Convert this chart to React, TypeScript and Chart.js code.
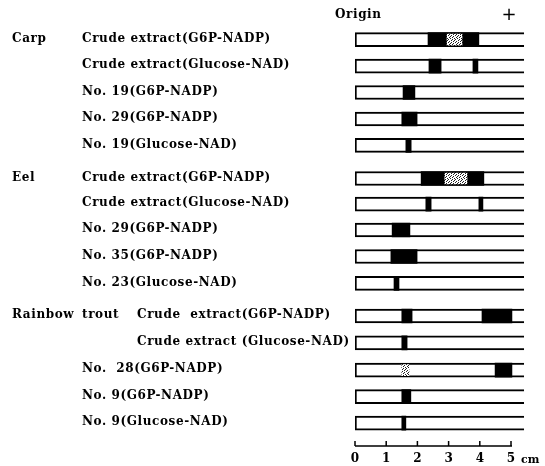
import { useEffect, useRef } from 'react';
import { Chart, registerables } from 'chart.js';

Chart.register(...registerables);

const speciesNames = ['Carp', 'Eel', 'Rainbow trout'];
const speciesFirstLane = [0, 5, 10];
const sampleLabels = [
  'Crude extract(G6P-NADP)',
  'Crude extract(Glucose-NAD)',
  'No. 19(G6P-NADP)',
  'No. 29(G6P-NADP)',
  'No. 19(Glucose-NAD)',
  'Crude extract(G6P-NADP)',
  'Crude extract(Glucose-NAD)',
  'No. 29(G6P-NADP)',
  'No. 35(G6P-NADP)',
  'No. 23(Glucose-NAD)',
  'Crude  extract(G6P-NADP)',
  'Crude extract (Glucose-NAD)',
  'No.  28(G6P-NADP)',
  'No. 9(G6P-NADP)',
  'No. 9(Glucose-NAD)',
];
const lanePositions = [0, 1, 2, 3, 4, 5.25, 6.22, 7.2, 8.2, 9.22, 10.45, 11.47, 12.5, 13.5, 14.5];
const stripLength = 5.42;
// [lane index, start cm, end cm]
const blackBands: [number, number, number][] = [
  [0, 2.34, 3.97],
  [1, 2.37, 2.76],
  [1, 3.78, 3.94],
  [2, 1.54, 1.92],
  [3, 1.5, 1.99],
  [4, 1.63, 1.8],
  [5, 2.12, 4.13],
  [6, 2.27, 2.44],
  [6, 3.97, 4.1],
  [7, 1.19, 1.76],
  [8, 1.15, 1.99],
  [9, 1.25, 1.41],
  [10, 1.5, 1.83],
  [10, 4.07, 5.03],
  [11, 1.5, 1.67],
  [12, 4.49, 5.03],
  [13, 1.5, 1.79],
  [14, 1.5, 1.63],
];
const stippledBands: [number, number, number][] = [
  [0, 2.95, 3.43],
  [5, 2.88, 3.59],
  [12, 1.5, 1.73],
];
const axisTicks = [0, 1, 2, 3, 4, 5];

const LABEL_FONT = 'bold 12px "DejaVu Serif"';

function makeStipple(): CanvasPattern | string {
  const c = document.createElement('canvas');
  c.width = 7;
  c.height = 7;
  const g = c.getContext('2d');
  if (!g) return '#999';
  g.fillStyle = '#ffffff';
  g.fillRect(0, 0, 7, 7);
  g.fillStyle = '#222';
  const dots = [
    [0, 0], [3, 0], [5, 1], [1, 2], [4, 2], [6, 3], [2, 3],
    [0, 4], [4, 4], [3, 5], [6, 5], [1, 6], [5, 6], [2, 1],
  ];
  dots.forEach(([x, y]) => g.fillRect(x, y, 1, 1));
  const p = g.createPattern(c, 'repeat');
  return p || '#999';
}

export default function App() {
  const ref = useRef<HTMLCanvasElement | null>(null);

  useEffect(() => {
    if (!ref.current) return;
    const stipple = makeStipple();

    const textPlugin = {
      id: 'gelText',
      afterDraw(chart: any) {
        const ctx = chart.ctx as CanvasRenderingContext2D;
        const ys = chart.scales.y;
        const xs = chart.scales.x;
        ctx.save();
        ctx.fillStyle = '#000';
        ctx.strokeStyle = '#000';
        ctx.font = LABEL_FONT;
        (ctx as any).letterSpacing = '0.6px';
        ctx.textBaseline = 'middle';
        ctx.textAlign = 'left';
        speciesNames.forEach((name, i) => {
          const y = ys.getPixelForValue(lanePositions[speciesFirstLane[i]]) - 1;
          const words = name.split(' ');
          ctx.fillText(words[0], 12, y);
          if (words[1]) ctx.fillText(words[1], 82, y);
        });
        sampleLabels.forEach((label, i) => {
          const y = ys.getPixelForValue(lanePositions[i]) - 1;
          const x = i === 10 || i === 11 ? 137 : 82;
          ctx.fillText(label, x, y);
        });
        // header
        ctx.fillText('Origin', 335, 15);
        (ctx as any).letterSpacing = '0px';
        ctx.font = '18px "DejaVu Sans"';
        ctx.textAlign = 'center';
        ctx.fillText('+', 509, 15);
        // axis line and ticks
        const ay = chart.chartArea.bottom + 1;
        ctx.lineWidth = 1.5;
        ctx.beginPath();
        ctx.moveTo(xs.getPixelForValue(axisTicks[0]), ay);
        ctx.lineTo(xs.getPixelForValue(axisTicks[axisTicks.length - 1]) + 1, ay);
        axisTicks.forEach((t) => {
          const x = xs.getPixelForValue(t);
          ctx.moveTo(x, ay);
          ctx.lineTo(x, ay - 5);
        });
        ctx.stroke();
        ctx.font = 'bold 11px "DejaVu Serif"';
        ctx.textAlign = 'left';
        ctx.fillText('cm', xs.getPixelForValue(5) + 10, 460);
        ctx.restore();
      },
    };

    const chart = new Chart(ref.current, {
      type: 'bar',
      data: {
        datasets: [
          {
            label: 'stippled',
            data: stippledBands.map(([l, a, b]) => ({ x: [a, b], y: lanePositions[l] })) as any,
            backgroundColor: stipple as any,
            borderWidth: 0,
            barThickness: 11,
            grouped: false,
            order: 0,
          },
          {
            label: 'bands',
            data: blackBands.map(([l, a, b]) => ({ x: [a, b], y: lanePositions[l] })) as any,
            backgroundColor: '#000',
            borderWidth: 0,
            barThickness: 14,
            grouped: false,
            order: 1,
          },
          {
            label: 'strips',
            data: lanePositions.map((y) => ({ x: [0, stripLength], y })) as any,
            backgroundColor: '#fff',
            borderColor: '#000',
            borderWidth: { top: 2, bottom: 2, left: 2, right: 0 },
            borderSkipped: false,
            barThickness: 14,
            grouped: false,
            order: 2,
          },
        ],
      },
      options: {
        indexAxis: 'y',
        animation: false,
        responsive: false,
        maintainAspectRatio: false,
        events: [],
        layout: { padding: { left: 355, right: 18.4, top: 0, bottom: 0 } },
        plugins: { legend: { display: false }, tooltip: { enabled: false } },
        scales: {
          x: {
            type: 'linear',
            min: 0,
            max: 5.5,
            grid: { display: false, drawTicks: false },
            border: { display: false },
            afterBuildTicks: (scale: any) => {
              scale.ticks = axisTicks.map((v) => ({ value: v }));
            },
            afterFit: (scale: any) => {
              scale.height = 21;
            },
            ticks: {
              padding: 7,
              color: '#000',
              font: { family: 'DejaVu Serif', size: 12, weight: 'bold' },
              callback: (v: any) => String(v),
            },
          },
          y: {
            type: 'linear',
            display: false,
            reverse: true,
            offset: false,
            min: -1.5,
            max: 15.33,
          },
        },
      },
      plugins: [textPlugin],
    } as any);

    return () => chart.destroy();
  }, []);

  return (
    <div style={{ position: 'fixed', left: 0, top: 0, width: 545, height: 466, background: '#fff' }}>
      <canvas ref={ref} width={545} height={466} style={{ width: 545, height: 466, display: 'block' }} />
    </div>
  );
}
